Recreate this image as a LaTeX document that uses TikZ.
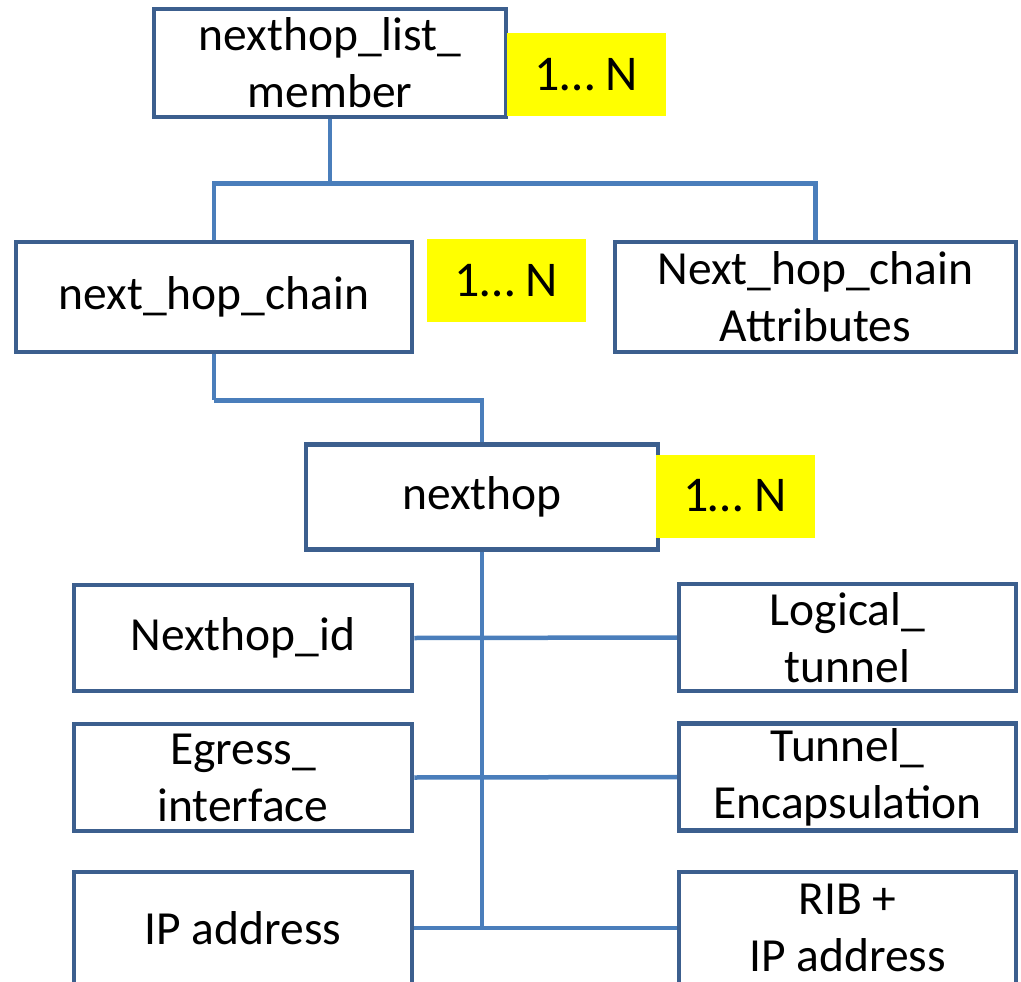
\documentclass[tikz,border=0pt]{standalone}
\usepackage{fontspec}
\setmainfont{Carlito}
\definecolor{boxblue}{RGB}{60,95,142}
\definecolor{linkblue}{RGB}{74,126,187}
\definecolor{tagyellow}{RGB}{255,255,0}
\begin{document}
\begin{tikzpicture}[x=1pt,y=-1pt,
  box/.style={draw=boxblue, line width=4.5pt, fill=white, rectangle, inner sep=0pt, align=center,
    font=\fontsize{47.5}{57}\selectfont},
  tag/.style={fill=tagyellow, rectangle, inner sep=0pt, minimum width=159pt, minimum height=83pt,
    font=\fontsize{50}{57}\selectfont},
  conn/.style={draw=linkblue, line width=4.5pt}]
\useasboundingbox (0,0) rectangle (1021,982);
\clip (0,0) rectangle (1021,982);
\node[box, minimum width=352pt, minimum height=108pt] (lm) at (330,63) {nexthop\_list\_\\member};
\node[box, minimum width=396pt, minimum height=110pt] (nhc) at (214,297) {next\_hop\_chain};
\node[box, minimum width=401pt, minimum height=110pt] (attr) at (815.5,297) {Next\_hop\_chain\\Attributes};
\node[box, minimum width=352pt, minimum height=105pt] (nh) at (482,497) {nexthop};
\node[box, minimum width=338pt, minimum height=106pt] (nid) at (243,638) {Nexthop\_id};
\node[box, minimum width=338pt, minimum height=107pt] (eg) at (243,777.5) {Egress\_\\interface};
\node[box, minimum width=338pt, minimum height=112pt] (ip) at (243,928) {IP address};
\node[box, minimum width=337pt, minimum height=107pt] (lt) at (847.5,637.5) {Logical\_\\tunnel};
\node[box, minimum width=337pt, minimum height=107pt] (te) at (847.5,777) {Tunnel\_\\Encapsulation};
\node[box, minimum width=337pt, minimum height=112pt] (rib) at (847.5,928) {RIB +\\IP address};
\node[tag] (t1) at (586.5,74.5) {1… N};
\node[tag] (t2) at (506.5,280.5) {1… N};
\node[tag] (t3) at (735,496) {1… N};
% connectors
\draw[conn] (lm.south) -- ++(0,64) coordinate (j1);
\draw[conn] (nhc.north) |- (j1) -| (attr.north);
\draw[conn] (nhc.south) -- ++(0,46) coordinate (j2);
\draw[conn] (j2) -| (nh.north);
\draw[conn] (nh.south) -- (nh.south |- ip.east);
\draw[conn] (nid.east) -- (lt.west);
\draw[conn] (eg.east) -- (te.west);
\draw[conn] (ip.east) -- (rib.west);
\end{tikzpicture}
\end{document}
